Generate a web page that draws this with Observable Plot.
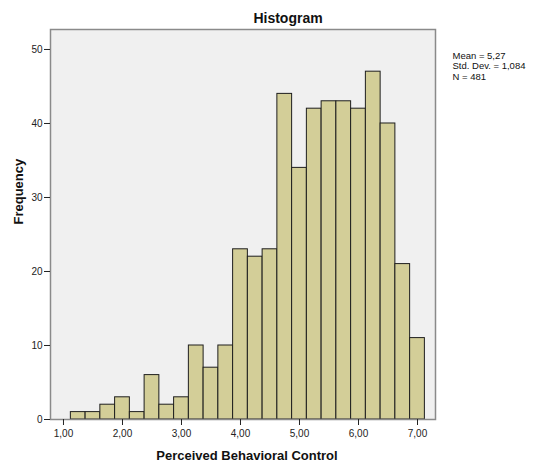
<!DOCTYPE html>
<html><head><meta charset="utf-8">
<script src="https://cdn.jsdelivr.net/npm/d3@7"></script>
<script src="https://cdn.jsdelivr.net/npm/@observablehq/plot@0.6"></script>
<style>body{margin:0;background:#fff}</style>
</head><body><div id="chart"></div>
<script>
const binLower = [1.125,1.375,1.625,1.875,2.125,2.375,2.625,2.875,3.125,3.375,3.625,3.875,4.125,4.375,4.625,4.875,5.125,5.375,5.625,5.875,6.125,6.375,6.625,6.875];
const binUpper = [1.375,1.625,1.875,2.125,2.375,2.625,2.875,3.125,3.375,3.625,3.875,4.125,4.375,4.625,4.875,5.125,5.375,5.625,5.875,6.125,6.375,6.625,6.875,7.125];
const counts = [1,1,2,3,1,6,2,3,10,7,10,23,22,23,44,34,42,43,43,42,47,40,21,11];
const xTicks = [1,2,3,4,5,6,7];
const yTicks = [0,10,20,30,40,50];
const stats = ["Mean = 5,27","Std. Dev. = 1,084","N = 481"];
const title = "Histogram";
const xLabel = "Perceived Behavioral Control";
const yLabel = "Frequency";

const data = counts.map((c,i)=>({x1:binLower[i], x2:binUpper[i], y:c}));
const fmt = d => d3.format(".2f")(d).replace(".", ",");

const chart = Plot.plot({
  width: 534, height: 468,
  marginLeft: 50, marginRight: 99, marginTop: 29, marginBottom: 49,
  style: {fontFamily: "'Liberation Sans', Arial, sans-serif", fontSize: "10px", background: "#fff", color: "#222", overflow: "visible"},
  x: {domain: [0.78, 7.305], label: null},
  y: {domain: [0, 52.7], label: null},
  marks: [
    Plot.frame({fill: "#f0f0f0"}),
    Plot.rectY(data, {x1: "x1", x2: "x2", y: "y", fill: "#d3ce98", stroke: "#1e1e1e", strokeWidth: 1}),
    Plot.frame({stroke: "#8a8a8a", strokeWidth: 1.5}),
    Plot.axisX({ticks: xTicks, tickFormat: fmt, tickSize: 6, tickPadding: 4, label: null, stroke: "#222"}),
    Plot.axisY({ticks: yTicks, tickSize: 6, tickPadding: 2, label: null, stroke: "#222"}),
    Plot.text([title], {frameAnchor: "top", dx: 45, dy: -11, lineAnchor: "middle", fontSize: 14, fontWeight: "bold", fill: "#111"}),
    Plot.text([xLabel], {frameAnchor: "bottom", dx: 4, dy: 36, lineAnchor: "middle", fontSize: 13, fontWeight: "bold", fill: "#111"}),
    Plot.text([yLabel], {frameAnchor: "left", dx: -32, rotate: -90, lineAnchor: "middle", fontSize: 13, fontWeight: "bold", fill: "#111"}),
    Plot.text([stats.join("\n")], {frameAnchor: "top-right", dx: 17, dy: 22, textAnchor: "start", lineAnchor: "top", fontSize: 9.5, lineHeight: 1.1, fill: "#111"})
  ]
});
document.getElementById("chart").appendChild(chart);
</script></body></html>
